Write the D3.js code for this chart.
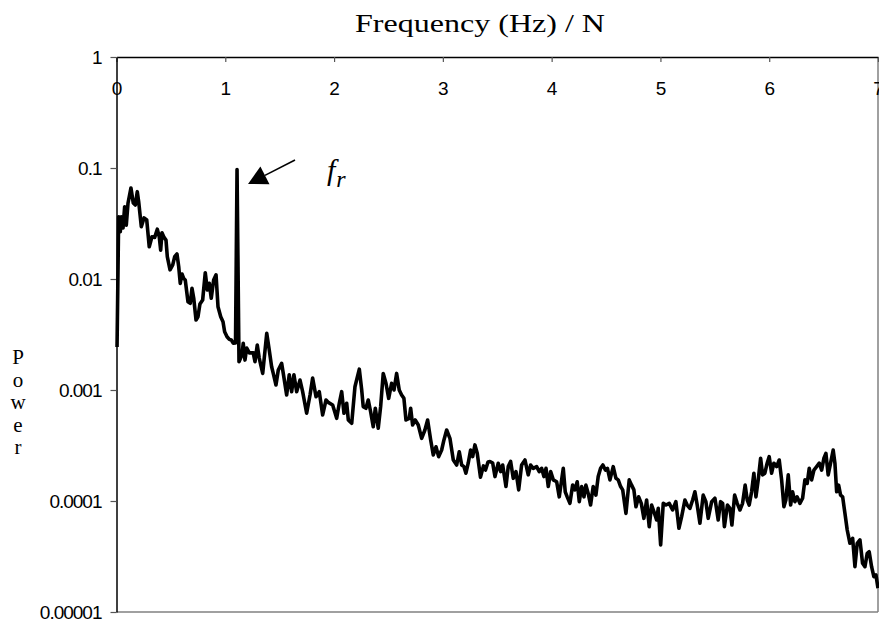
<!DOCTYPE html>
<html>
<head>
<meta charset="utf-8">
<script src="https://cdn.jsdelivr.net/npm/d3@7"></script>
<style>
  body { margin: 0; background: #fff; }
  svg { display: block; }
  .sans { font-family: Arial, "Liberation Sans", Helvetica, sans-serif; }
  .serif { font-family: "Times New Roman", "Liberation Serif", Times, serif; }
</style>
</head>
<body>
<div id="chart"></div>
<script>
// frequency (Hz) / N
const freq = [
  0.005,0.020,0.035,0.044,0.060,0.075,0.090,0.106,0.133,0.154,
  0.173,0.191,0.204,0.228,0.253,0.278,0.301,0.326,0.351,0.375,
  0.393,0.406,0.418,0.437,0.455,0.467,0.492,0.517,0.535,0.556,
  0.572,0.586,0.602,0.618,0.632,0.657,0.678,0.694,0.710,0.731,
  0.749,0.767,0.792,0.816,0.835,0.853,0.871,0.893,0.915,0.933,
  0.958,0.979,0.994,1.016,1.037,1.055,1.074,1.094,1.108,1.126,
  1.153,1.165,1.181,1.197,1.221,1.257,1.273,1.294,1.312,1.344,
  1.381,1.404,1.426,1.441,1.466,1.487,1.518,1.540,1.564,1.588,
  1.610,1.631,1.656,1.687,1.711,1.748,1.779,1.803,1.834,1.864,
  1.895,1.926,1.950,1.987,2.024,2.048,2.070,2.091,2.116,2.131,
  2.162,2.192,2.232,2.254,2.268,2.293,2.314,2.336,2.360,2.379,
  2.406,2.428,2.452,2.477,2.502,2.529,2.551,2.575,2.599,2.621,
  2.642,2.661,2.691,2.704,2.722,2.746,2.774,2.805,2.835,2.860,
  2.888,2.912,2.937,2.961,2.989,3.010,3.035,3.065,3.096,3.127,
  3.151,3.173,3.194,3.212,3.233,3.255,3.274,3.295,3.316,3.346,
  3.373,3.392,3.415,3.433,3.458,3.479,3.509,3.531,3.550,3.580,
  3.601,3.623,3.647,3.672,3.697,3.724,3.755,3.785,3.807,3.831,
  3.862,3.886,3.908,3.929,3.948,3.969,3.991,4.015,4.046,4.070,
  4.092,4.107,4.125,4.143,4.168,4.193,4.214,4.235,4.254,4.276,
  4.297,4.315,4.336,4.358,4.382,4.407,4.428,4.450,4.471,4.494,
  4.513,4.536,4.566,4.591,4.612,4.634,4.653,4.683,4.713,4.735,
  4.756,4.775,4.800,4.824,4.848,4.873,4.897,4.919,4.940,4.965,
  4.980,5.002,5.026,5.051,5.081,5.112,5.142,5.170,5.195,5.225,
  5.246,5.271,5.296,5.317,5.338,5.363,5.393,5.418,5.439,5.471,
  5.501,5.531,5.553,5.572,5.588,5.616,5.639,5.657,5.682,5.706,
  5.731,5.755,5.779,5.798,5.816,5.838,5.859,5.878,5.899,5.921,
  5.939,5.960,5.981,6.000,6.022,6.043,6.068,6.092,6.114,6.135,
  6.153,6.175,6.197,6.215,6.236,6.257,6.282,6.307,6.328,6.349,
  6.368,6.390,6.411,6.436,6.460,6.482,6.503,6.521,6.542,6.564,
  6.588,6.604,6.620,6.638,6.656,6.675,6.696,6.717,6.742,6.767,
  6.788,6.809,6.834,6.858,6.880,6.901,6.919,6.941,6.962,6.981,
  7.000
];

// power at each frequency
const power = [
  0.00244,0.0364,0.0267,0.0364,0.0288,0.0448,0.0306,0.0484,0.0661,0.0484,
  0.0464,0.0612,0.0497,0.0296,0.0355,0.034,0.0195,0.024,0.0237,0.0281,
  0.024,0.0182,0.0261,0.0237,0.0224,0.0159,0.0121,0.0134,0.0159,0.0168,
  0.0129,0.00914,0.0111,0.0101,0.0098,0.00624,0.00604,0.00824,0.0067,0.00427,
  0.00457,0.00596,0.00647,0.0114,0.00796,0.00914,0.0067,0.0098,0.0109,0.00563,
  0.00457,0.00412,0.00335,0.00302,0.00286,0.00282,0.00264,0.00265,0.097,0.0018,
  0.00207,0.00264,0.00186,0.00239,0.00216,0.00216,0.0018,0.00254,0.00194,0.00141,
  0.00324,0.00229,0.00162,0.00141,0.00111,0.00151,0.00174,0.00128,0.000902,0.00137,
  0.000966,0.00137,0.000966,0.00123,0.000966,0.000617,0.000902,0.00128,0.000871,0.000966,
  0.000596,0.000813,0.000769,0.000733,0.000556,0.000759,0.000966,0.000617,0.000759,0.000537,
  0.000501,0.00107,0.00154,0.001,0.000708,0.000684,0.000813,0.000637,0.000467,0.000684,
  0.000452,0.000708,0.00141,0.00115,0.000841,0.00115,0.001,0.00141,0.001,0.000902,
  0.000841,0.000537,0.000556,0.000684,0.000484,0.000537,0.000484,0.000367,0.000436,0.000537,
  0.000355,0.00026,0.000308,0.000251,0.000288,0.000355,0.000436,0.000367,0.000234,0.000211,
  0.000278,0.000211,0.000204,0.000178,0.000219,0.000288,0.000251,0.00032,0.000269,0.000164,
  0.000207,0.00019,0.000225,0.000227,0.00022,0.000166,0.000219,0.000184,0.000211,0.000135,
  0.000204,0.000227,0.00016,0.000184,0.000126,0.000211,0.000234,0.000172,0.000211,0.000197,
  0.000204,0.000184,0.000197,0.000166,0.000197,0.000135,0.000184,0.000155,0.000149,0.000109,
  0.000155,0.000197,0.000121,0.000109,0.0000953,0.000139,0.000126,0.000149,0.0000986,0.000135,
  0.000109,0.000139,0.000117,0.000092,0.000135,0.000113,0.000166,0.000197,0.000211,0.00019,
  0.000197,0.000155,0.000204,0.00016,0.000155,0.000135,0.000126,0.0000774,0.000155,0.000139,
  0.000126,0.0000889,0.000109,0.0000953,0.0000698,0.000102,0.0000587,0.000092,0.0000801,0.0000674,
  0.0000859,0.0000402,0.0000953,0.000092,0.0000953,0.000083,0.0000986,0.0000568,0.0000722,0.000102,
  0.000092,0.0000859,0.000102,0.000121,0.000092,0.000063,0.000113,0.0000986,0.0000698,0.0000986,
  0.000106,0.0000674,0.0000986,0.0000953,0.0000587,0.000092,0.0000859,0.0000608,0.000113,0.0000953,
  0.000083,0.0000953,0.000139,0.000102,0.000092,0.000121,0.000178,0.000109,0.000155,0.000243,
  0.000172,0.000178,0.000219,0.000251,0.000178,0.000219,0.000204,0.000234,0.000155,0.0000889,
  0.000102,0.000172,0.000092,0.000121,0.0000986,0.000109,0.0000953,0.000106,0.000155,0.000144,
  0.000197,0.000155,0.00019,0.000204,0.000219,0.00019,0.000243,0.000269,0.000172,0.000219,
  0.000288,0.000219,0.000121,0.000139,0.000113,0.000109,0.0000774,0.0000548,0.0000416,0.0000461,
  0.0000256,0.0000416,0.0000446,0.0000275,0.0000256,0.0000338,0.0000349,0.0000256,0.0000208,0.0000216,
  0.0000164
];

const xTicks = [0, 1, 2, 3, 4, 5, 6, 7];
const yTicks = [1, 0.1, 0.01, 0.001, 0.0001, 0.00001];
const yTickLabels = ["1", "0.1", "0.01", "0.001", "0.0001", "0.00001"];

// annotation for the resonance peak: arrow tail, arrow tip, label anchor
const arrowFrom = {f: 1.641, p: 0.118};
const arrowTo = {f: 1.209, p: 0.0718};
const peakLabel = {f: 1.935, p: 0.078};

const width = 879, height = 623;
const margin = {top: 57, right: 1, bottom: 11, left: 116.5};

const svg = d3.select("#chart").append("svg")
  .attr("width", width)
  .attr("height", height);

const x = d3.scaleLinear()
  .domain([0, 7])
  .range([margin.left, width - margin.right]);

const y = d3.scaleLog()
  .domain([0.00001, 1])
  .range([height - margin.bottom, margin.top]);

// plain frame on the right and bottom
svg.append("line")
  .attr("x1", x(0)).attr("x2", x(7))
  .attr("y1", y(0.00001)).attr("y2", y(0.00001))
  .attr("stroke", "#808080").attr("stroke-width", 1.5);
svg.append("line")
  .attr("x1", x(7)).attr("x2", x(7))
  .attr("y1", y(1)).attr("y2", y(0.00001))
  .attr("stroke", "#808080").attr("stroke-width", 1.5);

// x axis sits on top with labels hanging inside the plot
const xAxisG = svg.append("g")
  .attr("transform", `translate(0,${y(1)})`)
  .call(d3.axisBottom(x).tickValues(xTicks).tickFormat(d3.format("d"))
    .tickSize(5).tickPadding(20).tickSizeOuter(0));

const yAxisG = svg.append("g")
  .attr("transform", `translate(${x(0)},0)`)
  .call(d3.axisLeft(y).tickValues(yTicks)
    .tickFormat((d, i) => yTickLabels[i])
    .tickSize(6).tickPadding(9).tickSizeOuter(0));

[xAxisG, yAxisG].forEach(g => {
  g.attr("font-family", null).attr("font-size", null);
  g.select(".domain").attr("stroke", "#000").attr("stroke-width", 1.5);
  g.selectAll(".tick line").attr("stroke", "#555").attr("stroke-width", 1.2);
  g.selectAll(".tick text")
    .attr("class", "sans")
    .attr("fill", "#000")
    .style("font-size", "19px");
});
yAxisG.selectAll(".tick text").style("letter-spacing", "-1px");

// the spectrum
const line = d3.line()
  .x(d => x(d[0]))
  .y(d => y(d[1]));

svg.append("path")
  .datum(d3.zip(freq, power))
  .attr("fill", "none")
  .attr("stroke", "#000")
  .attr("stroke-width", 3.6)
  .attr("stroke-linejoin", "round")
  .attr("d", line);

// titles
svg.append("text")
  .attr("class", "serif")
  .attr("x", 355)
  .attr("y", 32)
  .attr("textLength", 250)
  .attr("lengthAdjust", "spacingAndGlyphs")
  .style("font-size", "25px")
  .text("Frequency (Hz) / N");

const yTitle = svg.append("text")
  .attr("class", "serif")
  .style("font-size", "21px")
  .attr("text-anchor", "middle");
"Power".split("").forEach((ch, i) => {
  yTitle.append("tspan")
    .attr("x", 18)
    .attr("y", 364 + i * 22.5)
    .text(ch);
});

// arrow pointing at the peak
const ax0 = x(arrowFrom.f), ay0 = y(arrowFrom.p);
const ax1 = x(arrowTo.f), ay1 = y(arrowTo.p);
const ang = Math.atan2(ay1 - ay0, ax1 - ax0);
const headLen = 19, headHalf = 10;
const bx = ax1 - headLen * Math.cos(ang), by = ay1 - headLen * Math.sin(ang);
svg.append("line")
  .attr("x1", ax0).attr("y1", ay0)
  .attr("x2", bx).attr("y2", by)
  .attr("stroke", "#000").attr("stroke-width", 1.6);
svg.append("path")
  .attr("d", d3.line()([
    [ax1, ay1],
    [bx + headHalf * Math.sin(ang), by - headHalf * Math.cos(ang)],
    [bx - headHalf * Math.sin(ang), by + headHalf * Math.cos(ang)]
  ]) + "Z")
  .attr("fill", "#000");

const fr = svg.append("text")
  .attr("class", "serif")
  .attr("x", x(peakLabel.f))
  .attr("y", y(peakLabel.p))
  .style("font-style", "italic")
  .style("font-size", "30px");
fr.append("tspan").text("f");
fr.append("tspan").attr("dy", 7).attr("dx", 1).style("font-size", "24px").text("r");
</script>
</body>
</html>
